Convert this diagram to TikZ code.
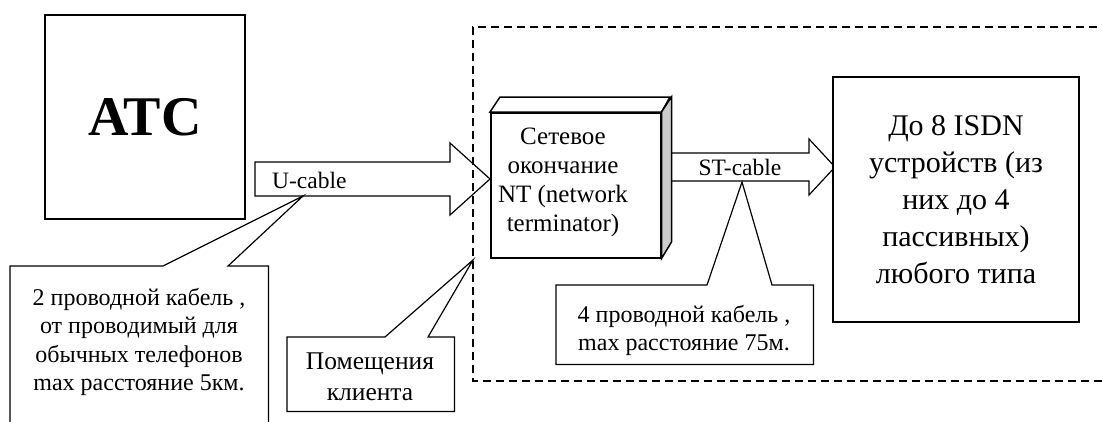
\documentclass[tikz,border=0pt]{standalone}
\usepackage{fontspec}
\setmainfont{Liberation Serif}
\usetikzlibrary{calc}
% block arrow: start, tip, shaft half-height, head half-height, head length
\newcommand\blockarrow[5]{%
  \draw[arrowbody] ($(#1)+(0,-#3)$) -- ($(#2)+(-#5,-#3)$) -- ($(#2)+(-#5,-#4)$)
    -- (#2) -- ($(#2)+(-#5,#4)$) -- ($(#2)+(-#5,#3)$) -- ($(#1)+(0,#3)$) -- cycle;}
% callout outline: box node, left/right pointer base offsets from the top-left corner, tip
\newcommand\calloutline[4]{%
  \draw[calloutbox] (#1.north west) -- ($(#1.north west)+(#2,0)$) -- (#4)
    -- ($(#1.north west)+(#3,0)$) -- (#1.north east) -- (#1.south east)
    -- (#1.south west) -- cycle;}
\begin{document}
\begin{tikzpicture}[x=1pt,y=-1pt,
  box/.style={draw, line width=1.5pt, fill=white, inner sep=0pt},
  arrowbody/.style={draw, line width=1.2pt, fill=white, line join=miter},
  calloutbox/.style={draw, line width=1.2pt, fill=white},
  frame/.style={draw, line width=1.2pt, dash pattern=on 8pt off 5pt},
  ptext/.style={align=center, inner sep=0pt, font=\fontsize{24}{28}\selectfont},
  slot/.style={inner sep=0pt, anchor=north west}]
\path[use as bounding box, clip] (0,0) rectangle (1102,421);
\fill[white] (0,0) rectangle (1102,421);

% exchange
\node[box, minimum width=200pt, minimum height=204pt,
      font=\bfseries\fontsize{56}{56}\selectfont] (atc) at (145,117) {АТС};

% U interface cable
\coordinate (u0) at (255,179);
\coordinate (u1) at (490,179);
\blockarrow{u0}{u1}{17}{36}{40}
\node[anchor=west, inner sep=0pt, font=\fontsize{23.5}{28}\selectfont] (ulabel) at (272,180) {U-cable};

% customer premises
\draw[frame] (1110,27) -- (473,27) -- (473,381) -- (1110,381);

% S/T bus cable
\coordinate (s0) at (664,167);
\coordinate (s1) at (835,167);
\blockarrow{s0}{s1}{14}{28}{26}
\node[inner sep=0pt, font=\fontsize{23.5}{28}\selectfont] (stlabel) at (740,167) {ST-cable};

% network terminator drawn as a block
\node[box, slot, minimum width=170pt, minimum height=145pt] (nt) at (490,112) {};
\draw[box] (nt.north west) -- ++(10,-15) -- ++(170,0) -- (nt.north east) -- cycle;
\draw[box, fill=gray!40] (nt.north east) -- ++(10,-15) -- ++(0,145) -- (nt.south east) -- cycle;
\node[ptext, font=\fontsize{25}{29}\selectfont] (ntlabel) at (563,182)
  {Сетевое\\окончание\\NT (network\\terminator)};

% terminal equipment
\node[box, minimum width=246pt, minimum height=245pt, align=center,
      font=\fontsize{30}{37}\selectfont] (isdn) at (956,199.5)
  {До 8 ISDN\\устройств (из\\них до 4\\пассивных)\\любого типа};

% callouts
\node[slot, minimum width=258pt, minimum height=180pt] (c1) at (10,266) {};
\coordinate (t1) at (303,196);
\calloutline{c1}{153}{218}{t1}
\node[ptext, font=\fontsize{24}{28.5}\selectfont] (c1text) at (139,342)
  {2 проводной кабель ,\\от проводимый для\\обычных телефонов\\max расстояние 5км.};

\node[slot, minimum width=167pt, minimum height=74pt] (c2) at (287,337) {};
\coordinate (t2) at (473,260);
\calloutline{c2}{98}{141}{t2}
\node[ptext, font=\fontsize{25.5}{31}\selectfont] (c2text) at (370,377) {Помещения\\клиента};

\node[slot, minimum width=257pt, minimum height=79pt] (c3) at (556,285) {};
\coordinate (t3) at (742,182);
\calloutline{c3}{151}{216}{t3}
\node[ptext] (c3text) at (684,330) {4 проводной кабель ,\\max расстояние 75м.};
\end{tikzpicture}
\end{document}
